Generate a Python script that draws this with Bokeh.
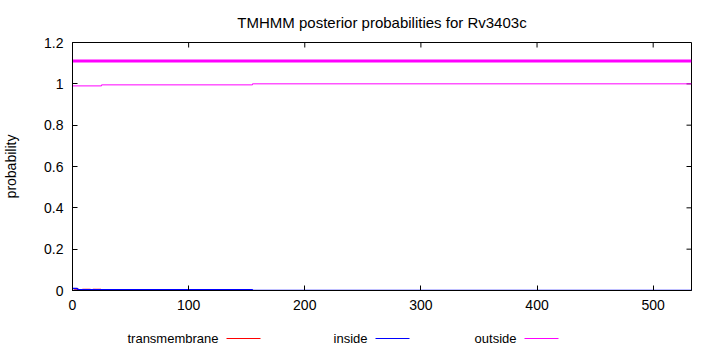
from bokeh.plotting import figure
from bokeh.layouts import column
from bokeh.models import Range1d, FixedTicker, CustomJSTickFormatter, Label
from bokeh.embed import file_html
from bokeh.resources import INLINE

FONT = "Liberation Sans"

title_text = "TMHMM posterior probabilities for Rv3403c"
seq_length = 533
x_ticks = [0, 100, 200, 300, 400, 500]
y_ticks = [0, 0.2, 0.4, 0.6, 0.8, 1, 1.2]
y_max = 1.2

# posterior probability of "outside" (step profile)
outside_x = [0, 25, 25, 155, 155, 533]
outside_y = [0.99, 0.99, 0.995, 0.995, 1.0, 1.0]

# posterior probability of "inside"
inside_x = [0, 4, 5, 155, 155, 533]
inside_y = [0.01, 0.01, 0.004, 0.004, 0.0, 0.0]

# posterior probability of "transmembrane" (per residue, first residues)
tm_pos = list(range(1, 26))
tm_prob = [0.002, 0.006, 0.008, 0.009, 0.009, 0.004, 0.003, 0.004, 0.008, 0.009,
           0.009, 0.009, 0.009, 0.009, 0.008, 0.003, 0.004, 0.008, 0.009, 0.009,
           0.009, 0.009, 0.009, 0.008, 0.006]

# predicted topology bar: whole sequence outside
topo_start = [0]
topo_end = [533]
topo_level = 1.11

legend_names = ["transmembrane", "inside", "outside"]
legend_colors = ["#ff0000", "#0000ff", "#ff00ff"]

FW, FH = 619, 248
TICK = 5

p = figure(frame_width=FW, frame_height=FH, output_backend="svg", toolbar_location=None,
           x_range=Range1d(0, seq_length), y_range=Range1d(0, y_max),
           min_border_left=65, min_border_right=10, min_border_top=42, min_border_bottom=25)
p.background_fill_color = "white"
p.border_fill_color = "white"
p.outline_line_color = "black"
p.outline_line_width = 1
p.grid.visible = False

p.title.text = title_text
p.title.align = "center"
p.title.text_font = FONT
p.title.text_font_size = "15px"
p.title.text_font_style = "normal"
p.title.text_color = "black"
p.title.standoff = 23

fmt = CustomJSTickFormatter(code="return tick.toString();")
for ax in (p.xaxis[0], p.yaxis[0]):
    ax.major_tick_in = TICK
    ax.major_tick_out = 0
    ax.minor_tick_in = 0
    ax.minor_tick_out = 0
    ax.major_label_text_font = FONT
    ax.major_label_text_font_size = "14px"
    ax.major_label_text_color = "black"
    ax.axis_line_color = "black"
    ax.formatter = fmt
p.xaxis[0].ticker = FixedTicker(ticks=x_ticks)
p.yaxis[0].ticker = FixedTicker(ticks=y_ticks)
p.xaxis[0].major_label_standoff = 9
p.yaxis[0].major_label_standoff = 9
p.yaxis[0].axis_label = "probability"
p.yaxis[0].axis_label_text_font = FONT
p.yaxis[0].axis_label_text_font_size = "14px"
p.yaxis[0].axis_label_text_font_style = "normal"
p.yaxis[0].axis_label_text_color = "black"
p.yaxis[0].axis_label_standoff = 22

# mirror ticks on top and right edges (inward), derived from the tick lists
dy = TICK * y_max / FH
dx = TICK * seq_length / FW
p.segment(x0=x_ticks, x1=x_ticks, y0=[y_max] * len(x_ticks), y1=[y_max - dy] * len(x_ticks),
          color="black", line_width=1)
p.segment(x0=[seq_length] * len(y_ticks), x1=[seq_length - dx] * len(y_ticks),
          y0=y_ticks, y1=y_ticks, color="black", line_width=1)

# data
p.vbar(x=tm_pos, top=tm_prob, bottom=0, width=1, color=legend_colors[0], line_width=0)
p.line(inside_x, inside_y, color=legend_colors[1], line_width=1.5)
p.line(outside_x, outside_y, color=legend_colors[2], line_width=1)
p.segment(x0=topo_start, x1=topo_end, y0=[topo_level], y1=[topo_level],
          color=legend_colors[2], line_width=3)

# legend strip (its frame is aligned with the main frame's left edge)
lw, lh = FW, 33
leg = figure(frame_width=lw, frame_height=lh, output_backend="svg", toolbar_location=None,
             x_range=Range1d(0, lw), y_range=Range1d(0, lh), title=None,
             x_axis_location=None, y_axis_location=None,
             min_border=0, min_border_left=0, min_border_right=0,
             min_border_top=0, min_border_bottom=0)
leg.grid.visible = False
leg.outline_line_color = None
leg.background_fill_color = "white"
leg.border_fill_color = "white"
text_right = [146, 295, 444]
ly = 10
for i, name in enumerate(legend_names):
    leg.add_layout(Label(x=text_right[i], y=ly, text=name, text_align="right",
                         text_baseline="middle", text_font=FONT, text_font_size="13px",
                         text_color="black"))
    leg.segment(x0=[text_right[i] + 8], x1=[text_right[i] + 42], y0=[ly], y1=[ly],
                color=legend_colors[i], line_width=1)

layout = column(p, leg, spacing=0)
open("out.html", "w").write(file_html(layout, INLINE))
